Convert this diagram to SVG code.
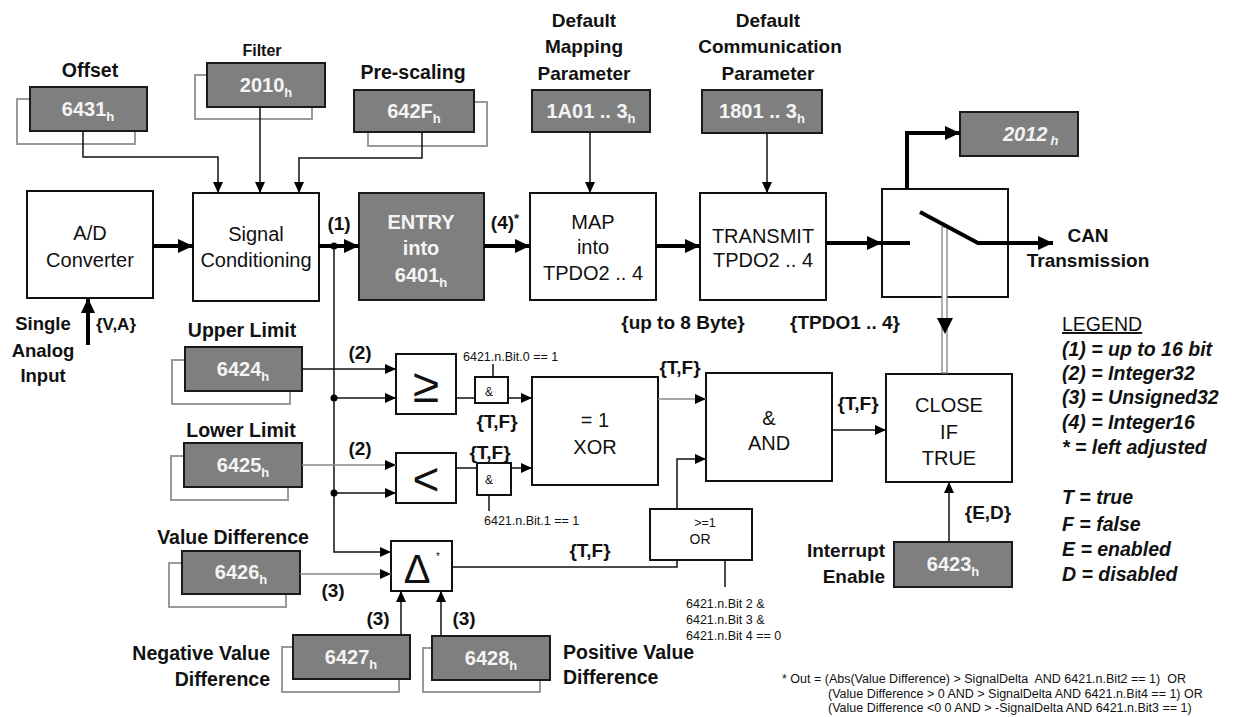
<svg xmlns="http://www.w3.org/2000/svg" width="1235" height="717" viewBox="0 0 1235 717">
<defs>
<style>
.t{font-family:'Liberation Sans',Arial,sans-serif;fill:#111}
.b{font-weight:bold}
.bx{fill:#fff;stroke:#111;stroke-width:2}
.gb{fill:#7f7f7f;stroke:#1a1a1a;stroke-width:2}
.sh{fill:none;stroke:#9a9a9a;stroke-width:2}
.wt{font-family:'Liberation Sans',Arial,sans-serif;font-weight:bold;fill:#f4f4f4;font-size:20px}
.ln{fill:none;stroke:#111;stroke-width:1.5}
.gl{fill:none;stroke:#8a8a8a;stroke-width:1.5}
.th{fill:none;stroke:#000;stroke-width:4}
.m{fill:#000}
</style>
<marker id="a" markerUnits="userSpaceOnUse" markerWidth="12" markerHeight="10" refX="11" refY="5" orient="auto"><path d="M0,0 L11,5 L0,10 z" class="m"/></marker>
<marker id="A" markerUnits="userSpaceOnUse" markerWidth="16" markerHeight="14" refX="15" refY="7" orient="auto"><path d="M0,0 L15,7 L0,14 z" class="m"/></marker>
</defs>
<rect width="1235" height="717" fill="#fff"/>

<g id="n6431">
<rect class="sh" x="17" y="99" width="118" height="45"/>
<rect class="gb" x="30" y="87" width="117" height="44"/>
<text class="wt" x="88" y="116" text-anchor="middle">6431<tspan font-size="13" dy="5">h</tspan></text>
<text class="t b" x="90" y="77" font-size="19.5" text-anchor="middle">Offset</text>
</g>
<g id="n2010">
<rect class="sh" x="195" y="75" width="117" height="44"/>
<rect class="gb" x="207" y="63" width="118" height="44"/>
<text class="wt" x="266" y="92" text-anchor="middle">2010<tspan font-size="13" dy="5">h</tspan></text>
<text class="t b" x="262" y="56" font-size="16" text-anchor="middle">Filter</text>
</g>
<g id="n642F">
<rect class="sh" x="368" y="102" width="119" height="44"/>
<rect class="gb" x="354" y="90" width="120" height="42"/>
<text class="wt" x="414" y="118" text-anchor="middle">642F<tspan font-size="13" dy="5">h</tspan></text>
<text class="t b" x="413" y="79" font-size="19.5" text-anchor="middle">Pre-scaling</text>
</g>
<g id="n1A01">
<rect class="gb" x="532" y="90" width="118" height="42"/>
<text class="wt" x="591" y="118" text-anchor="middle">1A01 .. 3<tspan font-size="13" dy="5">h</tspan></text>
<text class="t b" x="584" y="27" font-size="19" text-anchor="middle">Default</text>
<text class="t b" x="584" y="53" font-size="19" text-anchor="middle">Mapping</text>
<text class="t b" x="584" y="80" font-size="19" text-anchor="middle">Parameter</text>
</g>
<g id="n1801">
<rect class="gb" x="702" y="90" width="120" height="43"/>
<text class="wt" x="762" y="118" text-anchor="middle">1801 .. 3<tspan font-size="13" dy="5">h</tspan></text>
<text class="t b" x="768" y="27" font-size="19" text-anchor="middle">Default</text>
<text class="t b" x="770" y="53" font-size="19" text-anchor="middle">Communication</text>
<text class="t b" x="768" y="80" font-size="19" text-anchor="middle">Parameter</text>
</g>
<g id="n2012">
<rect class="gb" x="960" y="112" width="118" height="44"/>
<text class="wt" x="1003" y="141" font-style="italic">2012<tspan font-size="13" dx="3" dy="4">h</tspan></text>
</g>

<g id="ad">
<rect class="bx" x="27" y="191" width="126" height="107"/>
<text class="t" x="90" y="240" font-size="20" text-anchor="middle">A/D</text>
<text class="t" x="90" y="267" font-size="20" text-anchor="middle">Converter</text>
</g>
<g id="input">
<text class="t b" x="43" y="330" font-size="18.5" text-anchor="middle">Single</text>
<text class="t b" x="43" y="357" font-size="18.5" text-anchor="middle">Analog</text>
<text class="t b" x="43" y="382" font-size="18.5" text-anchor="middle">Input</text>
<text class="t b" x="96" y="330" font-size="17">{V,A}</text>
</g>
<g id="sc">
<rect class="bx" x="193" y="193" width="126" height="108"/>
<text class="t" x="256" y="241" font-size="20" text-anchor="middle">Signal</text>
<text class="t" x="256" y="267" font-size="20" text-anchor="middle">Conditioning</text>
<text class="t b" x="339" y="230" font-size="19" text-anchor="middle">(1)</text>
</g>
<g id="entry">
<rect class="gb" x="359" y="193" width="125" height="107"/>
<text class="wt" x="421" y="229" font-size="21" text-anchor="middle">ENTRY</text>
<text class="wt" x="421" y="255" font-size="21" text-anchor="middle">into</text>
<text class="wt" x="421" y="282" font-size="21" text-anchor="middle">6401<tspan font-size="13" dy="5">h</tspan></text>
<text class="t b" x="505" y="229" font-size="19" text-anchor="middle">(4)<tspan font-size="13" dy="-6">*</tspan></text>
</g>
<g id="map">
<rect class="bx" x="530" y="193" width="126" height="107"/>
<text class="t" x="593" y="229" font-size="20" text-anchor="middle">MAP</text>
<text class="t" x="593" y="254" font-size="20" text-anchor="middle">into</text>
<text class="t" x="593" y="280" font-size="20" text-anchor="middle">TPDO2 .. 4</text>
<text class="t b" x="683" y="329" font-size="19" text-anchor="middle">{up to 8 Byte}</text>
</g>
<g id="transmit">
<rect class="bx" x="700" y="193" width="126" height="107"/>
<text class="t" x="763" y="243" font-size="20" text-anchor="middle">TRANSMIT</text>
<text class="t" x="763" y="267" font-size="20" text-anchor="middle">TPDO2 .. 4</text>
<text class="t b" x="845" y="329" font-size="19" text-anchor="middle">{TPDO1 .. 4}</text>
</g>
<g id="switch">
<rect class="bx" x="882" y="189" width="126" height="108"/>
<text class="t b" x="1088" y="242" font-size="19" text-anchor="middle">CAN</text>
<text class="t b" x="1088" y="267" font-size="19" text-anchor="middle">Transmission</text>
</g>

<g id="n6424">
<rect class="sh" x="172" y="360" width="118" height="44"/>
<rect class="gb" x="185" y="347" width="117" height="44"/>
<text class="wt" x="243" y="376" text-anchor="middle">6424<tspan font-size="13" dy="5">h</tspan></text>
<text class="t b" x="242" y="337" font-size="19.5" text-anchor="middle">Upper Limit</text>
<text class="t b" x="360" y="359" font-size="19" text-anchor="middle">(2)</text>
</g>
<g id="n6425">
<rect class="sh" x="171" y="456" width="117" height="44"/>
<rect class="gb" x="184" y="443" width="118" height="44"/>
<text class="wt" x="243" y="472" text-anchor="middle">6425<tspan font-size="13" dy="5">h</tspan></text>
<text class="t b" x="241" y="437" font-size="19.5" text-anchor="middle">Lower Limit</text>
<text class="t b" x="360" y="455" font-size="19" text-anchor="middle">(2)</text>
</g>
<g id="n6426">
<rect class="sh" x="169" y="563" width="117" height="44"/>
<rect class="gb" x="182" y="551" width="118" height="43"/>
<text class="wt" x="241" y="579" text-anchor="middle">6426<tspan font-size="13" dy="5">h</tspan></text>
<text class="t b" x="233" y="544" font-size="19.5" text-anchor="middle">Value Difference</text>
<text class="t b" x="333" y="597" font-size="19" text-anchor="middle">(3)</text>
</g>
<g id="n6427">
<rect class="sh" x="282" y="647" width="117" height="45"/>
<rect class="gb" x="293" y="635" width="117" height="44"/>
<text class="wt" x="351" y="664" text-anchor="middle">6427<tspan font-size="13" dy="5">h</tspan></text>
<text class="t b" x="270" y="660" font-size="19.5" text-anchor="end">Negative Value</text>
<text class="t b" x="270" y="686" font-size="19.5" text-anchor="end">Difference</text>
<text class="t b" x="378" y="625" font-size="19" text-anchor="middle">(3)</text>
</g>
<g id="n6428">
<rect class="sh" x="423" y="648" width="117" height="44"/>
<rect class="gb" x="432" y="636" width="118" height="44"/>
<text class="wt" x="491" y="665" text-anchor="middle">6428<tspan font-size="13" dy="5">h</tspan></text>
<text class="t b" x="563" y="659" font-size="19.5">Positive Value</text>
<text class="t b" x="563" y="684" font-size="19.5">Difference</text>
<text class="t b" x="464" y="625" font-size="19" text-anchor="middle">(3)</text>
</g>

<g id="ge">
<rect class="bx" x="396" y="354" width="60" height="60"/>
<text class="t" x="426" y="402" font-size="48" text-anchor="middle">≥</text>
</g>
<g id="lt">
<rect class="bx" x="396" y="453" width="60" height="50"/>
<text class="t" x="426" y="495" font-size="46" text-anchor="middle">&lt;</text>
</g>
<g id="and1">
<rect class="bx" x="475" y="377" width="33" height="26" stroke-width="2.5"/>
<text class="t" x="489" y="396" font-size="12" text-anchor="middle">&amp;</text>
<text class="t" x="463" y="361" font-size="12.5">6421.n.Bit.0 == 1</text>
<text class="t b" x="497" y="428" font-size="19" text-anchor="middle">{T,F}</text>
</g>
<g id="and2">
<rect class="bx" x="477" y="463" width="34" height="32" stroke-width="2.5"/>
<text class="t" x="489" y="484" font-size="12" text-anchor="middle">&amp;</text>
<text class="t" x="484" y="525" font-size="12.5">6421.n.Bit.1 == 1</text>
<text class="t b" x="490" y="459" font-size="19" text-anchor="middle">{T,F}</text>
</g>
<g id="xor">
<rect class="bx" x="532" y="377" width="126" height="108"/>
<text class="t" x="595" y="427" font-size="20" text-anchor="middle">= 1</text>
<text class="t" x="595" y="454" font-size="20" text-anchor="middle">XOR</text>
<text class="t b" x="680" y="374" font-size="19" text-anchor="middle">{T,F}</text>
</g>
<g id="and">
<rect class="bx" x="706" y="373" width="126" height="108"/>
<text class="t" x="769" y="425" font-size="20" text-anchor="middle">&amp;</text>
<text class="t" x="769" y="450" font-size="20" text-anchor="middle">AND</text>
<text class="t b" x="858" y="410" font-size="19" text-anchor="middle">{T,F}</text>
</g>
<g id="close">
<rect class="bx" x="886" y="374" width="126" height="108"/>
<text class="t" x="949" y="412" font-size="20" text-anchor="middle">CLOSE</text>
<text class="t" x="949" y="439" font-size="20" text-anchor="middle">IF</text>
<text class="t" x="949" y="465" font-size="20" text-anchor="middle">TRUE</text>
</g>
<g id="delta">
<rect class="bx" x="391" y="541" width="61" height="50"/>
<text class="t" x="417" y="583" font-size="40" text-anchor="middle">Δ</text>
<text class="t" x="438" y="560" font-size="10" text-anchor="middle">*</text>
<text class="t b" x="590" y="557" font-size="19" text-anchor="middle">{T,F}</text>
</g>
<g id="or">
<rect class="bx" x="650" y="509" width="102" height="51" stroke-width="2.5"/>
<text class="t" x="705" y="527" font-size="12.5" text-anchor="middle">&gt;=1</text>
<text class="t" x="700" y="544" font-size="14" text-anchor="middle">OR</text>
<text class="t" x="686" y="608" font-size="12.5">6421.n.Bit 2 &amp;</text>
<text class="t" x="686" y="624" font-size="12.5">6421.n.Bit 3 &amp;</text>
<text class="t" x="686" y="640" font-size="12.5">6421.n.Bit 4 == 0</text>
</g>
<g id="n6423">
<rect class="gb" x="894" y="542" width="118" height="45"/>
<text class="wt" x="953" y="571" text-anchor="middle">6423<tspan font-size="13" dy="5">h</tspan></text>
<text class="t b" x="885" y="557" font-size="19" text-anchor="end">Interrupt</text>
<text class="t b" x="885" y="583" font-size="19" text-anchor="end">Enable</text>
<text class="t b" x="988" y="519" font-size="19" text-anchor="middle">{E,D}</text>
</g>

<g id="legend" class="t b" font-size="19.5" font-style="italic">
<text x="1062" y="331" font-style="normal" font-weight="normal" text-decoration="underline">LEGEND</text>
<text x="1062" y="356">(1) = up to 16 bit</text>
<text x="1062" y="380">(2) = Integer32</text>
<text x="1062" y="404">(3) = Unsigned32</text>
<text x="1062" y="429">(4) = Integer16</text>
<text x="1062" y="454">* = left adjusted</text>
<text x="1062" y="504">T = true</text>
<text x="1062" y="531">F = false</text>
<text x="1062" y="556">E = enabled</text>
<text x="1062" y="581">D = disabled</text>
</g>
<g id="footnote" class="t" font-size="12.5">
<text x="782" y="683" xml:space="preserve">* Out = (Abs(Value Difference) &gt; SignalDelta  AND 6421.n.Bit2 == 1)  OR</text>
<text x="828" y="698" xml:space="preserve">(Value Difference &gt; 0 AND &gt; SignalDelta AND 6421.n.Bit4 == 1) OR</text>
<text x="828" y="712" xml:space="preserve">(Value Difference &lt;0 0 AND &gt; -SignalDelta AND 6421.n.Bit3 == 1)</text>
</g>

<g id="connectors">
<path class="ln" d="M83,131 V157 H218 V193" marker-end="url(#a)"/>
<path class="ln" d="M260,107 V193" marker-end="url(#a)"/>
<path class="ln" d="M422,132 V158 H299 V193" marker-end="url(#a)"/>
<path class="ln" d="M590,132 V193" stroke-width="1" marker-end="url(#a)"/>
<path class="ln" d="M767,133 V193" stroke-width="2" marker-end="url(#a)"/>
<path class="th" d="M88,345 V298" stroke-width="3.5" marker-end="url(#A)"/>
<path class="th" d="M153,246 H193" marker-end="url(#A)"/>
<path class="th" d="M319,246 H359" stroke-width="3" marker-end="url(#A)"/>
<path class="th" d="M484,246 H530" marker-end="url(#A)"/>
<path class="th" d="M656,246 H700" marker-end="url(#A)"/>
<path class="th" d="M826,243 H882" marker-end="url(#A)"/>
<path class="th" d="M907,189 V133 H960" stroke-width="4.5" marker-end="url(#A)"/>
<rect x="942" y="227" width="5" height="146" fill="#fff" stroke="#777" stroke-width="1.2"/>
<path d="M937,318 L953,318 L945,334 z" class="m"/>
<path class="th" d="M882,243 H910" stroke-width="3"/>
<path class="th" d="M920,212 L978,243 H1053" stroke-width="3" marker-end="url(#A)"/>
<path class="ln" d="M334,246 V552 H391" stroke="#444" marker-end="url(#a)"/>
<path class="ln" d="M302,369 H396" marker-end="url(#a)"/>
<path class="ln" d="M334,398 H396" marker-end="url(#a)"/>
<path class="gl" d="M302,465 H396" marker-end="url(#a)"/>
<path class="ln" d="M334,493 H396" marker-end="url(#a)"/>
<path class="ln" d="M456,398 H475"/>
<path class="ln" d="M508,398 H532" marker-end="url(#a)"/>
<path class="ln" d="M456,468 H477"/>
<path class="ln" d="M511,468 H532" marker-end="url(#a)"/>
<path class="ln" d="M493,377 V364" stroke-width="2.5"/>
<path class="ln" d="M489,495 V511" stroke-width="2.5"/>
<path class="gl" d="M658,399 H706" marker-end="url(#a)"/>
<path class="ln" d="M677,509 V459 H706" marker-end="url(#a)"/>
<path class="ln" d="M452,567 H677 V560"/>
<path class="ln" d="M725,560 V587" stroke-width="2.5"/>
<path class="ln" d="M832,430 H886" marker-end="url(#a)"/>
<path class="ln" d="M949,542 V482" stroke-width="2" marker-end="url(#a)"/>
<path class="gl" d="M300,574 H391" marker-end="url(#a)"/>
<path class="ln" d="M401,635 V591" stroke-width="2" marker-end="url(#a)"/>
<path class="ln" d="M441,636 V591" stroke-width="2" marker-end="url(#a)"/>
<circle cx="334" cy="246" r="3.5" class="m"/>
<circle cx="334" cy="398" r="3.5" class="m"/>
<circle cx="334" cy="493" r="3.5" class="m"/>
</g>
</svg>
